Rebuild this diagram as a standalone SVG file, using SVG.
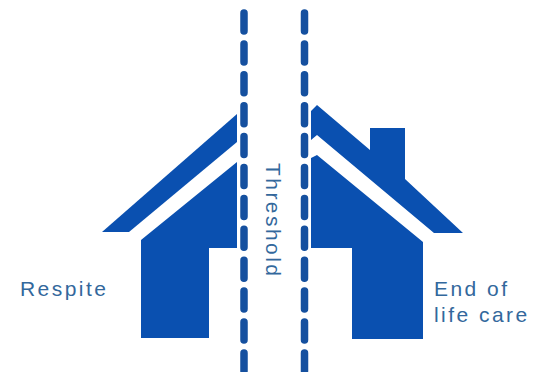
<svg xmlns="http://www.w3.org/2000/svg" width="534" height="372" viewBox="0 0 534 372">
<style>
.h{fill:#0a50b0}
.d{fill:none;stroke:#15509f;stroke-width:7.5;stroke-linecap:round;stroke-dasharray:18 12.9}
.t{font-family:"Liberation Sans",Arial,sans-serif;font-size:21px;letter-spacing:2.45px;fill:#33689c}
</style>
<rect width="534" height="372" fill="#fff"/>
<g id="connectors">
<path class="d" d="M244 13V372"/>
<path class="d" d="M304.5 13V372"/>
</g>
<g id="house-left">
<path class="h" d="M237 114V142L129 232H102Z"/>
<path class="h" d="M237 162V248H209V338H141V240Z"/>
<text class="t" x="20" y="296">Respite</text>
</g>
<g id="house-right">
<path class="h" d="M311 111L317 105L370 150V128H405V179L463 233H434L317 135L311 140Z"/>
<path class="h" d="M311 158L317 155L423 242V339H352V248H311Z"/>
<text class="t" x="434" y="296">End of</text>
<text class="t" x="434" y="322">life care</text>
</g>
<g id="threshold">
<text class="t" transform="translate(266 163) rotate(90)">Threshold</text>
</g>
</svg>
